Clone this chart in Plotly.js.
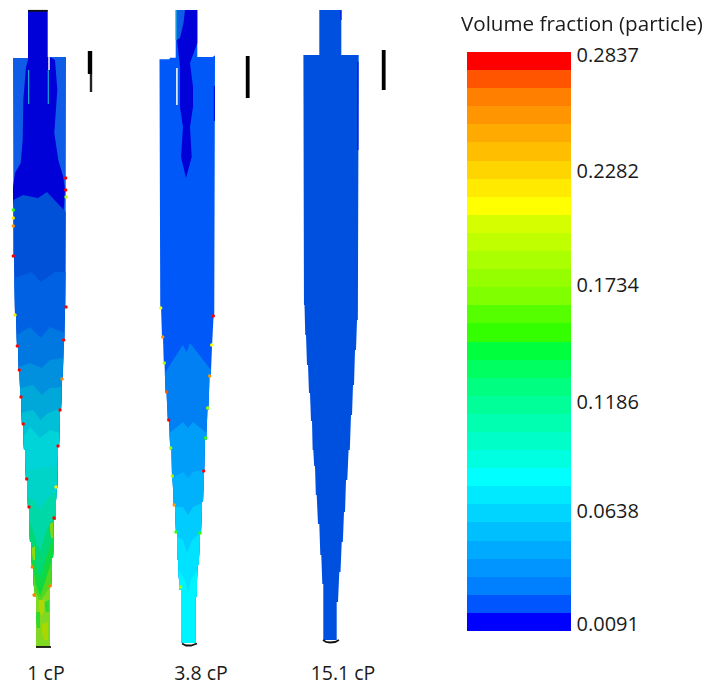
<!DOCTYPE html>
<html>
<head>
<meta charset="utf-8">
<script src="https://cdn.plot.ly/plotly-3.0.1.min.js"></script>
<style>html,body{margin:0;padding:0;background:#fff}#chart{width:707px;height:688px}
#chart .scatterlayer{filter:blur(0.55px)}</style>
</head>
<body>
<div id="chart"></div>
<script>
// ---------- Legend data ----------
const legendTitle = 'Volume fraction (particle)';
const legendLevels = [0,1,2,3,4,5,6,7,8,9,10,11,12,13,14,15,16,17,18,19,20,21,22,23,24,25,26,27,28,29,30,31];
const legendColors = ['#0000ff','#0055ff','#0080ff','#0095ff','#00aaff','#00bfff','#00d5ff','#00eaff','#00ffff','#00ffe0','#00ffc8','#00ffb0','#00ff98','#00ff80','#00ff60','#00ff3c','#33ff00','#55ff00','#80ff00','#95ff00','#aaff00','#bfff00','#d5ff00','#ffff00','#ffea00','#ffd500','#ffbf00','#ffaa00','#ff9500','#ff8000','#ff5500','#ff0000'];
const legendTickLevels = [0.39,6.63,12.66,19.1,25.4,31.84];
const legendTickLabels = ['0.0091','0.0638','0.1186','0.1734','0.2282','0.2837'];

// ---------- Case labels ----------
const caseCenters = [46,201,343];
const caseLabels = ['1 cP','3.8 cP','15.1 cP'];

// ---------- Case 1: 1 cP ----------
const a_topX = [13,28,28,47.5,47.5,50,66];
const a_topY = [58,58,10,10,57,57,57];
const a_leftY = [58,257,315,347,370,397,425,450,480,507,542,567,597,647];
const a_leftX = [13,14,16,18,19.5,21,23,25,27,29,31,33,36,36];
const a_rightY = [57,307,340,380,410,447,488,520,558,587,647];
const a_rightX = [66,65,63.5,62,60,58,56.5,54,52,50,50];
const a_coreX = [28,28,47.5,47.5,50,55,57.3,54.3,58.3,63.3,65,63.3,15,13,13,15,20.7,22.7,23.3,26];
const a_coreY = [60,10,10,57,57,60,90,133,160,177,190,215,215,200,187,173,163,140,100,67];
const a_bandX = [
  [13,23,38,47,66],
  [13,31.7,40.7,55,66],
  [15,30,40.7,50,66],
  [18,30,41.7,50,66],
  [20,33,41.7,50,66],
  [22,33,40.7,48,66],
  [23,30,40,50,66],
  [24,40,66],
  [26,34,40,48,66],
  [27,34,40,46,66],
  [28,35,40,46,66],
  [30,36,40,45,66],
  [33,37,40,44,66]
];
const a_bandY = [
  [200,195,198,192,212],
  [278,272,282,272,272],
  [335,327,338,327,333],
  [367,363,368,360,358],
  [388,385,395,388,387],
  [413,410,420,413,408],
  [437,427,438,430,433],
  [470,468,466],
  [497,500,510,498,492],
  [520,534,552,532,512],
  [545,562,580,558,535],
  [568,585,596,582,560],
  [590,595,602,596,585]
];
const a_patchX = [[39,44,44,41,39],[42,48,48,44,42],[36,40,40,37,36],[45,49,49,46,45],[32,35,35,33,32],[50,53,53,51,50]];
const a_patchY = [[600,600,612,616,608],[624,622,640,640,632],[612,612,628,628,620],[602,600,612,612,606],[548,546,560,560,554],[524,522,538,538,530]];
const a_spotX = [65.7,65.7,66,13.3,13.3,13.3,13.3,15,17.3,19.3,21,23.3,66,63.7,62,60,58,26.7,29,32.3,34,56,54,50];
const a_spotY = [178,190,197,210,218,226,256,315,346,370,397,424,307,340,379,410,446,479,507,567,595,487,518,586];
const a_spotLevel = [31,31,20,16,24,28,31,24,31,31,31,31,31,31,29,31,31,31,31,29,29,24,31,29];

// ---------- Case 2: 3.8 cP ----------
const b_topX = [159.5,169.3,170,175.7,175.7,197.3,197.3,212.7,215];
const b_topY = [59.3,59.3,57.7,57.7,10,10,57,57,55.3];
const b_leftY = [59,307,337,363,392,420,450,477,505,533,560,590,643];
const b_leftX = [159.5,161,163,164.5,166.5,169,171.5,172.5,175,177,178,181,181.5];
const b_rightY = [55,317,347,377,410,440,472,502,533,565,597,643];
const b_rightX = [215,213.5,212,209.5,207.5,205,204,202,200,197.5,195.5,195.5];
const b_coreX = [177,197.3,197.3,190,193,193,190,191.7,186,181,183,180,180,178,177];
const b_coreY = [10,10,43,63,87,107,127,157,178,157,127,107,67,50,40];
const b_lightX = [176.5,185,183.5,180,176.5];
const b_lightY = [10,10,23,38,40];
const b_bandX = [
  [163,182.7,186.7,190,212],
  [168,183,188,193,208],
  [172,183,188,193,204],
  [174,183,188,193,202],
  [177,183,187,192,200],
  [180,185,188,191,196]
];
const b_bandY = [
  [373,345,352,343,370],
  [433,422,428,422,433],
  [478,472,478,472,470],
  [507,507,515,507,503],
  [537,540,553,540,533],
  [570,580,593,580,570]
];
const b_spotX = [160.7,162.7,164.3,166.7,168.7,170.7,213.3,211.7,209.7,207.7,205.7,203.7,172.3,174.3,176,180.7,200];
const b_spotY = [308,337,363,392,420,448,316,345,376,408,438,471,476,505,532,587,533];
const b_spotLevel = [23,28,20,30,31,20,31,23,28,20,16,31,20,28,16,20,16];

// ---------- Case 3: 15.1 cP ----------
const c_topX = [303.3,319.3,319.3,341.3,341.3,358.7];
const c_topY = [55,55,10,10,55,55];
const c_leftY = [55,305,335,365,393,421,450,466,495,524,555,584,640];
const c_leftX = [303.4,304.5,306,308,310,312,313.3,315,316.7,319.3,321.3,323.3,323.3];
const c_rightY = [55,320,350,385,415,450,480,512,542,572,602,640];
const c_rightX = [358.7,357,355,353,351,348.6,346,344,341.7,339.3,336.7,336.7];

// ---------- Wall films, caps and probe bars ----------
const filmX = [[28.6,28.6],[48.3,48.3],[176.2,176.2]];
const filmY = [[70,104],[70,104],[10,40]];
const slitX = [[49,49],[176.9,176.9]];
const slitY = [[57,70],[68,105]];
const stripX = [[214.4,214.4],[357.9,357.9],[341,341]];
const stripY = [[86,121],[62,150],[10,20]];
const capX = [[28,47.5],[36,51],[182,186,191,197],[323,326,330,335,339]];
const capY = [[10.8,10.8],[647,647],[643.5,645.5,645.5,643.5],[640,642,642.5,642,640]];
const barX = [[90,90],[91,91],[247.7,247.7],[383.7,383.7]];
const barY = [[51,74],[74,92],[56,98],[50,90]];

// ---------- Fill colours (display only) ----------
const a_bandFills = ['#0050d8','#0062e2','#0078e2','#0090de','#00a8da','#00c0d8','#00d4d8','#00d4c8','#00d8a8','#00d878','#10d840','#50d820','#80d820'];
const a_patchFills = ['#b0d800','#a8d800','#30d830','#30d830','#90d810','#80d810'];
const b_bandFills = ['#0080f2','#009ef8','#00b2fc','#00ccff','#00e2ff','#00f4ff'];
const wallFill = '#0f5ce6', coreFill = '#0000d8', bodyB = '#0058f8', bodyC = '#0050e0';

// ---------- Helpers: turn the read outlines into closed polygons ----------
function xAt(ys, xs, y) {
  let k = 0;
  for (let i = 0; i < ys.length; i++) if (ys[i] <= y) k = i;
  if (k >= ys.length - 1) return xs[k];
  const mid = (xs[k] + xs[k + 1]) / 2;
  return xs[k] + (mid - xs[k]) * (y - ys[k]) / (ys[k + 1] - ys[k]);
}
function sidePts(ys, xs, y0) {
  const pts = [[xAt(ys, xs, y0), y0]];
  for (let i = 1; i < ys.length; i++) {
    if (ys[i] > y0) { pts.push([(xs[i - 1] + xs[i]) / 2, ys[i]]); pts.push([xs[i], ys[i]]); }
  }
  return pts;
}
function poly(x, y, fill) {
  return {x: x, y: y, type: 'scatter', mode: 'lines', line: {width: 0, color: fill}, fill: 'toself',
          fillcolor: fill, hoverinfo: 'skip', xaxis: 'x', yaxis: 'y'};
}
function outline(topX, topY, lY, lX, rY, rX, fill) {
  const r = sidePts(rY, rX, rY[0]);
  const l = sidePts(lY, lX, lY[0]).reverse();
  const pts = topX.map((v, i) => [v, topY[i]]).concat(r, l);
  return poly(pts.map(p => p[0]), pts.map(p => p[1]), fill);
}
function band(bx, by, lY, lX, rY, rX, fill) {
  const n = bx.length;
  const head = bx.map((v, i) => [i === 0 ? xAt(lY, lX, by[0]) : i === n - 1 ? xAt(rY, rX, by[n - 1]) : v, by[i]]);
  const pts = head.concat(sidePts(rY, rX, by[n - 1]), sidePts(lY, lX, by[0]).reverse());
  return poly(pts.map(p => p[0]), pts.map(p => p[1]), fill);
}
function lineSet(xs, ys, color, width) {
  return xs.map((x, i) => ({x: x, y: ys[i], type: 'scatter', mode: 'lines', line: {color: color, width: width},
    hoverinfo: 'skip', xaxis: 'x', yaxis: 'y'}));
}
function spots(x, y, lv) {
  return {x: x, y: y, type: 'scatter', mode: 'markers', hoverinfo: 'skip', xaxis: 'x', yaxis: 'y',
    marker: {size: 3.4, color: lv, cmin: 0, cmax: 31, colorscale: legendScale, line: {width: 0}}};
}
const legendScale = [];
legendColors.forEach((c, i) => {
  legendScale.push([i / 32, c]);
  legendScale.push([(i + 1) / 32, c]);
});

const traces = [];
// Case 1
traces.push(outline(a_topX, a_topY, a_leftY, a_leftX, a_rightY, a_rightX, wallFill));
traces.push(poly(a_coreX, a_coreY, coreFill));
a_bandX.forEach((bx, i) => traces.push(band(bx, a_bandY[i], a_leftY, a_leftX, a_rightY, a_rightX, a_bandFills[i])));
a_patchX.forEach((px, i) => traces.push(poly(px, a_patchY[i], a_patchFills[i])));
traces.push(spots(a_spotX, a_spotY, a_spotLevel));
// Case 2
traces.push(outline(b_topX, b_topY, b_leftY, b_leftX, b_rightY, b_rightX, bodyB));
traces.push(poly(b_coreX, b_coreY, coreFill));
traces.push(poly(b_lightX, b_lightY, wallFill));
b_bandX.forEach((bx, i) => traces.push(band(bx, b_bandY[i], b_leftY, b_leftX, b_rightY, b_rightX, b_bandFills[i])));
traces.push(spots(b_spotX, b_spotY, b_spotLevel));
// Case 3
traces.push(outline(c_topX, c_topY, c_leftY, c_leftX, c_rightY, c_rightX, bodyC));
// Details
lineSet(filmX, filmY, '#18a8d8', 1.2).forEach(t => traces.push(t));
lineSet(slitX, slitY, '#ffffff', 1.5).forEach(t => traces.push(t));
lineSet(stripX, stripY, '#0010e0', 1.2).forEach(t => traces.push(t));
lineSet(capX, capY, '#111111', 1.8).forEach(t => traces.push(t));
lineSet(barX.slice(0, 1), barY.slice(0, 1), '#000000', 4.4).forEach(t => traces.push(t));
lineSet(barX.slice(1, 2), barY.slice(1, 2), '#222222', 2.4).forEach(t => traces.push(t));
lineSet(barX.slice(2), barY.slice(2), '#000000', 3.8).forEach(t => traces.push(t));

// Legend bar
traces.push({
  type: 'heatmap', x: [0], y: legendLevels, z: legendLevels.map(v => [v]),
  zmin: 0, zmax: 31, colorscale: legendScale, showscale: false, hoverinfo: 'skip',
  xaxis: 'x2', yaxis: 'y2', zsmooth: false
});

const W = 707, H = 688, B = 40, PH = H - B;
const textFont = {family: '"Open Sans", "Noto Sans", sans-serif', size: 20, color: '#1a1a1a'};
const caseFont = {family: '"Open Sans", "Noto Sans", sans-serif', size: 19.5, color: '#1a1a1a'};
const titleFont = {family: '"Open Sans", "Noto Sans", sans-serif', size: 20.6, color: '#1a1a1a'};
const layout = {
  width: W, height: H, margin: {l: 0, r: 0, t: 0, b: B, pad: 0},
  paper_bgcolor: '#ffffff', plot_bgcolor: 'rgba(0,0,0,0)', showlegend: false,
  xaxis: {range: [0, W], domain: [0, 1], showgrid: false, zeroline: false, showline: false,
          tickmode: 'array', tickvals: caseCenters, ticktext: caseLabels, ticks: 'outside', ticklen: 8,
          tickcolor: 'rgba(0,0,0,0)', tickfont: caseFont, fixedrange: true},
  yaxis: {range: [PH, 0], domain: [0, 1], visible: false, fixedrange: true},
  xaxis2: {domain: [467 / W, 571 / W], range: [-0.5, 0.5], anchor: 'y2', visible: false, fixedrange: true},
  yaxis2: {domain: [(PH - 631) / PH, (PH - 52) / PH], range: [-0.5, 31.5], anchor: 'x2', side: 'right',
           showgrid: false, zeroline: false, showline: false, tickmode: 'array',
           tickvals: legendTickLevels.map(v => v - 0.5), ticktext: legendTickLabels, ticks: 'outside', ticklen: 0.5,
           tickcolor: 'rgba(0,0,0,0)', tickfont: textFont, fixedrange: true},
  annotations: [{text: legendTitle, xref: 'paper', yref: 'paper', x: 581.5 / W, y: (PH - 23) / PH,
                 xanchor: 'center', yanchor: 'middle', showarrow: false, font: titleFont}]
};
Plotly.newPlot('chart', traces, layout, {displayModeBar: false, staticPlot: true});
</script>
</body>
</html>
